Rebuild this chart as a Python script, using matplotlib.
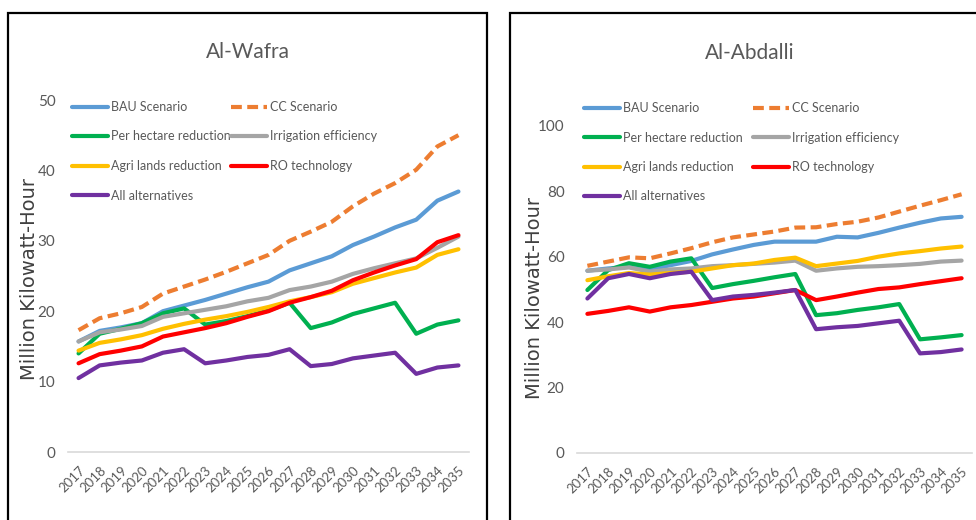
import matplotlib
matplotlib.use("Agg")
import matplotlib.pyplot as plt
from matplotlib.patches import Rectangle

years = [str(y) for y in range(2017, 2036)]

series_names = ["BAU Scenario", "CC Scenario", "Per hectare reduction",
                "Irrigation efficiency", "Agri lands reduction", "RO technology",
                "All alternatives"]

# Al-Wafra
wafra_bau = [15.7, 17.2, 17.7, 18.3, 20.0, 20.8, 21.6, 22.5, 23.4, 24.2, 25.8, 26.8, 27.8, 29.4, 30.6, 31.9, 33.0, 35.7, 37.0]
wafra_cc = [17.3, 19.0, 19.7, 20.6, 22.5, 23.5, 24.5, 25.6, 26.8, 28.0, 30.0, 31.3, 32.7, 34.9, 36.7, 38.2, 40.1, 43.4, 45.0]
wafra_ph = [14.0, 16.8, 17.5, 18.3, 19.7, 20.4, 18.1, 18.6, 19.3, 20.1, 21.2, 17.6, 18.4, 19.6, 20.4, 21.2, 16.8, 18.1, 18.7]
wafra_ie = [15.7, 17.0, 17.4, 17.9, 19.2, 19.7, 20.2, 20.7, 21.4, 21.9, 23.0, 23.5, 24.2, 25.3, 26.1, 26.8, 27.5, 29.0, 30.6]
wafra_ag = [14.4, 15.5, 16.0, 16.6, 17.5, 18.2, 18.8, 19.3, 19.9, 20.6, 21.4, 22.0, 22.7, 23.9, 24.7, 25.5, 26.2, 28.0, 28.8]
wafra_ro = [12.6, 13.9, 14.4, 15.0, 16.4, 17.0, 17.6, 18.3, 19.2, 20.0, 21.2, 22.0, 22.9, 24.4, 25.5, 26.5, 27.4, 29.8, 30.8]
wafra_all = [10.5, 12.3, 12.7, 13.0, 14.1, 14.6, 12.6, 13.0, 13.5, 13.8, 14.6, 12.2, 12.5, 13.3, 13.7, 14.1, 11.1, 12.0, 12.3]

# Al-Abdalli
abd_bau = [55.7, 56.4, 56.9, 56.1, 57.4, 58.7, 60.7, 62.2, 63.6, 64.6, 64.6, 64.6, 66.1, 65.9, 67.3, 68.9, 70.4, 71.7, 72.2]
abd_cc = [57.2, 58.5, 59.8, 59.5, 61.0, 62.6, 64.4, 65.9, 66.8, 67.7, 68.9, 69.0, 70.0, 70.7, 72.0, 73.8, 75.6, 77.3, 79.1]
abd_ph = [49.8, 55.9, 58.0, 56.9, 58.5, 59.5, 50.4, 51.6, 52.6, 53.7, 54.7, 42.1, 42.7, 43.7, 44.5, 45.5, 34.7, 35.3, 36.0]
abd_ie = [55.7, 56.1, 56.7, 55.4, 56.1, 56.4, 57.1, 57.4, 57.8, 58.2, 58.8, 55.7, 56.4, 56.9, 57.1, 57.4, 57.8, 58.5, 58.8]
abd_ag = [52.8, 54.0, 55.0, 54.5, 55.0, 55.4, 56.4, 57.4, 57.9, 59.0, 59.7, 57.1, 57.9, 58.7, 60.0, 61.0, 61.7, 62.5, 63.1]
abd_ro = [42.5, 43.4, 44.5, 43.2, 44.5, 45.2, 46.2, 47.2, 47.8, 48.8, 49.8, 46.7, 47.8, 49.0, 50.1, 50.6, 51.6, 52.5, 53.4]
abd_all = [47.2, 53.4, 54.7, 53.4, 54.7, 55.4, 46.7, 47.8, 48.3, 49.0, 49.8, 37.8, 38.4, 38.8, 39.6, 40.4, 30.4, 30.8, 31.6]

colors = ["#5B9BD5", "#ED7D31", "#00B050", "#A5A5A5", "#FFC000", "#FF0000", "#7030A0"]

W, H = 976, 520
fig = plt.figure(figsize=(W / 100, H / 100), dpi=100)

NARROW = ["Lato", "DejaVu Sans"]
GRAY_TXT = "#595959"


def fx(px):
    return px / W


def fy(py):
    return 1 - py / H


def panel(rect, title, data, yticks, ymax, title_xy, ylabel_xy, leg_xy, colspace):
    ax = fig.add_axes(rect)
    x = list(range(len(years)))
    handles = []
    for name, vals, c in zip(series_names, data, colors):
        if name == "CC Scenario":
            ln, = ax.plot(x, vals, color=c, lw=3.0, ls=(0, (2.6, 1.3)),
                          dash_capstyle="butt", label=name)
        else:
            ln, = ax.plot(x, vals, color=c, lw=3.0, solid_capstyle="round", label=name)
        handles.append(ln)
    ax.set_xlim(-0.5, len(years) - 0.5)
    ax.set_ylim(0, ymax)
    for s in ["top", "right", "left"]:
        ax.spines[s].set_visible(False)
    ax.spines["bottom"].set_color("#D9D9D9")
    ax.spines["bottom"].set_linewidth(1.2)
    ax.tick_params(axis="both", length=0)
    ax.tick_params(axis="y", pad=9)
    ax.tick_params(axis="x", pad=9)
    ax.set_yticks(yticks)
    ax.set_yticklabels([str(t) for t in yticks], family=NARROW, fontsize=11, color=GRAY_TXT)
    ax.set_xticks(x)
    ax.set_xticklabels(years, family=NARROW, fontsize=9.5, color=GRAY_TXT)
    for lab in ax.get_xticklabels():
        lab.set_rotation(45)
        lab.set_ha("right")
        lab.set_va("top")
        lab.set_rotation_mode("anchor")
    ax.patch.set_alpha(0)

    fig.text(fx(title_xy[0]), fy(title_xy[1]), title, ha="center", va="center",
             family=NARROW, fontsize=15, color=GRAY_TXT)
    fig.text(fx(ylabel_xy[0]), fy(ylabel_xy[1]), "Million Kilowatt-Hour", rotation=90,
             ha="center", va="center", family="DejaVu Sans", fontsize=14, color="#404040")

    order = [0, 2, 4, 6, 1, 3, 5]
    leg = fig.legend([handles[i] for i in order], [series_names[i] for i in order],
                     loc="upper left", bbox_to_anchor=(fx(leg_xy[0]), fy(leg_xy[1])),
                     bbox_transform=fig.transFigure, ncol=2, frameon=False,
                     prop={"family": NARROW, "size": 9.0}, handlelength=2.9,
                     handletextpad=0.2, columnspacing=colspace, labelspacing=1.4,
                     borderpad=0, borderaxespad=0)
    for t in leg.get_texts():
        t.set_color(GRAY_TXT)
    return ax


# left panel axes: x 68..469, y 100..452
panel([fx(68), fy(452), fx(469 - 68), (452 - 100) / H], "Al-Wafra",
      [wafra_bau, wafra_cc, wafra_ph, wafra_ie, wafra_ag, wafra_ro, wafra_all],
      [0, 10, 20, 30, 40, 50], 50, (248, 52), (30, 279), (72, 101), 0.05)

# right panel axes: x 577..972, y 126..452.7
panel([fx(577), fy(452.7), fx(972 - 577), (452.7 - 126) / H], "Al-Abdalli",
      [abd_bau, abd_cc, abd_ph, abd_ie, abd_ag, abd_ro, abd_all],
      [0, 20, 40, 60, 80, 100], 100, (750, 53), (535, 298), (584, 102), 0.85)

# panel frames
fig.patches.append(Rectangle((fx(8), fy(540)), fx(487 - 8), (540 - 12.7) / H,
                             transform=fig.transFigure, fill=False, ec="black", lw=1.6,
                             clip_on=False))
fig.patches.append(Rectangle((fx(510), fy(540)), fx(1000 - 510), (540 - 13) / H,
                             transform=fig.transFigure, fill=False, ec="black", lw=1.6,
                             clip_on=False))

fig.savefig("out.png", dpi=100)
